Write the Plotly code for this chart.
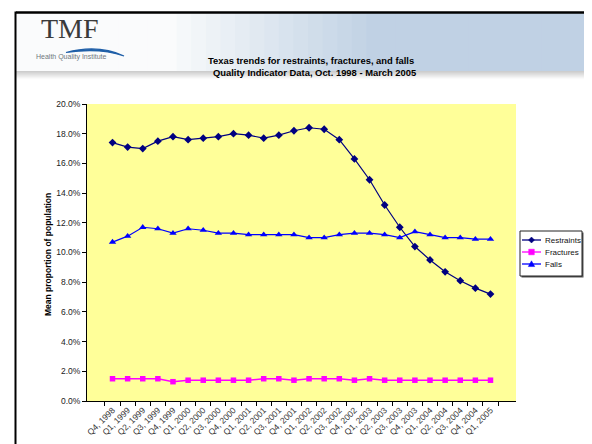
import plotly.graph_objects as go

quarters = ["Q4, 1998", "Q1, 1999", "Q2, 1999", "Q3, 1999", "Q4, 1999",
            "Q1, 2000", "Q2, 2000", "Q3, 2000", "Q4, 2000",
            "Q1, 2001", "Q2, 2001", "Q3, 2001", "Q4, 2001",
            "Q1, 2002", "Q2, 2002", "Q3, 2002", "Q4, 2002",
            "Q1, 2003", "Q2, 2003", "Q3, 2003", "Q4, 2003",
            "Q1, 2004", "Q2, 2004", "Q3, 2004", "Q4, 2004", "Q1, 2005"]

restraints = [17.4, 17.1, 17.0, 17.5, 17.8, 17.6, 17.7, 17.8, 18.0, 17.9, 17.7, 17.9, 18.2,
              18.4, 18.3, 17.6, 16.3, 14.9, 13.2, 11.7, 10.4, 9.5, 8.7, 8.1, 7.6, 7.2]
fractures = [1.5, 1.5, 1.5, 1.5, 1.3, 1.4, 1.4, 1.4, 1.4, 1.4, 1.5, 1.5, 1.4,
             1.5, 1.5, 1.5, 1.4, 1.5, 1.4, 1.4, 1.4, 1.4, 1.4, 1.4, 1.4, 1.4]
falls = [10.7, 11.1, 11.7, 11.6, 11.3, 11.6, 11.5, 11.3, 11.3, 11.2, 11.2, 11.2, 11.2,
         11.0, 11.0, 11.2, 11.3, 11.3, 11.2, 11.0, 11.4, 11.2, 11.0, 11.0, 10.9, 10.9]

series_names = ["Restraints", "Fractures", "Falls"]
series_colors = ["#000080", "#FF00FF", "#0000FF"]

W, H = 592, 444
ML, MR, MT, MB = 79, 84, 96, 51
PW, PH = W - ML - MR, H - MT - MB


def px(x):
    return (x - ML) / PW


def py(y):
    return (H - MB - y) / PH


FONT = "Liberation Sans, Arial, sans-serif"

fig = go.Figure()
fig.add_trace(go.Scatter(x=quarters, y=[v / 100 for v in restraints], name=series_names[0],
                         mode="lines+markers", line=dict(color=series_colors[0], width=1.2),
                         marker=dict(symbol="diamond", size=6, color=series_colors[0])))
fig.add_trace(go.Scatter(x=quarters, y=[v / 100 for v in fractures], name=series_names[1],
                         mode="lines+markers", line=dict(color=series_colors[1], width=1.5),
                         marker=dict(symbol="square", size=5.5, color=series_colors[1])))
fig.add_trace(go.Scatter(x=quarters, y=[v / 100 for v in falls], name=series_names[2],
                         mode="lines+markers", line=dict(color=series_colors[2], width=1.2),
                         marker=dict(symbol="triangle-up", size=6.5, color=series_colors[2])))

shapes = []
# banner gradient strips
n = 40
x0, x1 = 8, 592
for i in range(n):
    a = x0 + (x1 - x0) * i / n
    b = x0 + (x1 - x0) * (i + 1) / n
    t = (a - x0) / (x1 - x0)
    if t < 0.25:
        f = 0.0
    else:
        f = min(1.0, (t - 0.25) / 0.35)
    r = int(250 - f * 58)
    g = int(251 - f * 42)
    bl = int(252 - f * 24)
    shapes.append(dict(type="rect", xref="paper", yref="paper",
                       x0=px(a), x1=px(b) + 0.002, y0=py(63), y1=py(5),
                       fillcolor=f"rgb({r},{g},{bl})", line=dict(width=0), layer="below"))
# shadow under banner
for j in range(8):
    c = int(205 + j * 6.5)
    shapes.append(dict(type="rect", xref="paper", yref="paper",
                       x0=px(8), x1=px(592), y0=py(63 + j + 1.2), y1=py(63 + j),
                       fillcolor=f"rgb({c},{c},{c})", line=dict(width=0), layer="below"))
# frame lines
shapes.append(dict(type="line", xref="paper", yref="paper", x0=px(8), x1=px(592),
                   y0=py(4.5), y1=py(4.5), line=dict(color="black", width=2.5)))
shapes.append(dict(type="line", xref="paper", yref="paper", x0=px(7.5), x1=px(7.5),
                   y0=py(3.5), y1=py(444), line=dict(color="black", width=2)))
# logo swoosh
shapes.append(dict(type="path", xref="paper", yref="paper",
                   path=f"M {px(58)},{py(44.5)} Q {px(90)},{py(36)} {px(116)},{py(48)} "
                        f"Q {px(92)},{py(39.5)} {px(58)},{py(44.5)} Z",
                   fillcolor="#1f5fa8", line=dict(color="#1f5fa8", width=1.2)))

# legend box (drawn)
LX0, LX1, LY0, LY1 = 512, 574, 223, 268
shapes.append(dict(type="rect", xref="paper", yref="paper",
                   x0=px(LX0 + 1.5), x1=px(LX1 + 1.5), y0=py(LY1 + 1.5), y1=py(LY0 + 1.5),
                   fillcolor="#555555", line=dict(width=0)))
shapes.append(dict(type="rect", xref="paper", yref="paper",
                   x0=px(LX0), x1=px(LX1), y0=py(LY1), y1=py(LY0),
                   fillcolor="white", line=dict(color="#222222", width=1)))
leg_rows = [232, 244, 256]
sym_x0, sym_x1 = 514, 533
sym_c = (sym_x0 + sym_x1) / 2
for k, yy in enumerate(leg_rows):
    col = series_colors[k]
    shapes.append(dict(type="line", xref="paper", yref="paper", x0=px(sym_x0), x1=px(sym_x1),
                       y0=py(yy), y1=py(yy), line=dict(color=col, width=1.3)))
    if k == 0:
        d = 3
        path = (f"M {px(sym_c)},{py(yy - d)} L {px(sym_c + d)},{py(yy)} "
                f"L {px(sym_c)},{py(yy + d)} L {px(sym_c - d)},{py(yy)} Z")
    elif k == 1:
        d = 2.8
        path = (f"M {px(sym_c - d)},{py(yy - d)} L {px(sym_c + d)},{py(yy - d)} "
                f"L {px(sym_c + d)},{py(yy + d)} L {px(sym_c - d)},{py(yy + d)} Z")
    else:
        d = 3.2
        path = (f"M {px(sym_c)},{py(yy - d)} L {px(sym_c + d)},{py(yy + d * 0.8)} "
                f"L {px(sym_c - d)},{py(yy + d * 0.8)} Z")
    shapes.append(dict(type="path", xref="paper", yref="paper", path=path,
                       fillcolor=col, line=dict(color=col, width=0.5)))

annotations = [
    dict(text="TMF", x=px(62), y=py(21), xref="paper", yref="paper", showarrow=False,
         font=dict(family="Liberation Serif, Times New Roman, serif", size=28, color="#3a3a3a"),
         xanchor="center", yanchor="middle"),
    dict(text="Health Quality Institute", x=px(63), y=py(49), xref="paper", yref="paper",
         showarrow=False, font=dict(family=FONT, size=7, color="#707880"),
         xanchor="center", yanchor="middle"),
    dict(text="<b>Texas trends for restraints, fractures, and falls</b>", x=px(303), y=py(52.5),
         xref="paper", yref="paper", showarrow=False, font=dict(family=FONT, size=9.4, color="black"),
         xanchor="center", yanchor="middle"),
    dict(text="<b>Quality Indicator Data, Oct. 1998 - March 2005</b>", x=px(306), y=py(64),
         xref="paper", yref="paper", showarrow=False, font=dict(family=FONT, size=9.4, color="black"),
         xanchor="center", yanchor="middle"),
    dict(text="<b>Mean proportion of population</b>", x=px(40), y=py(247), xref="paper", yref="paper",
         showarrow=False, textangle=-90, font=dict(family=FONT, size=8.5, color="black"),
         xanchor="center", yanchor="middle"),
]
for k, yy in enumerate(leg_rows):
    annotations.append(dict(text=series_names[k], x=px(535), y=py(yy), xref="paper", yref="paper",
                            showarrow=False, xanchor="left", yanchor="middle",
                            font=dict(family=FONT, size=8, color="#111111")))

fig.update_layout(
    width=W, height=H,
    margin=dict(l=ML, r=MR, t=MT, b=MB, autoexpand=False),
    paper_bgcolor="white", plot_bgcolor="#FFFF99",
    font=dict(family=FONT, size=8.5, color="black"),
    showlegend=False,
    shapes=shapes, annotations=annotations,
)
fig.update_xaxes(type="category", showgrid=False, showline=True, linecolor="black", linewidth=1,
                 ticks="outside", tickson="boundaries", ticklen=4, tickcolor="black",
                 tickangle=-45, tickfont=dict(size=8.5, family=FONT, color="#333333"),
                 automargin=False, mirror=False, zeroline=False)
fig.update_yaxes(range=[0, 0.2], dtick=0.02, tickformat=".1%", showgrid=False, showline=True,
                 linecolor="black", linewidth=1, ticks="outside", ticklen=4, tickcolor="black",
                 tickfont=dict(size=8.5, family=FONT, color="#222222"), zeroline=False,
                 automargin=False)

fig.write_html("out.html")
